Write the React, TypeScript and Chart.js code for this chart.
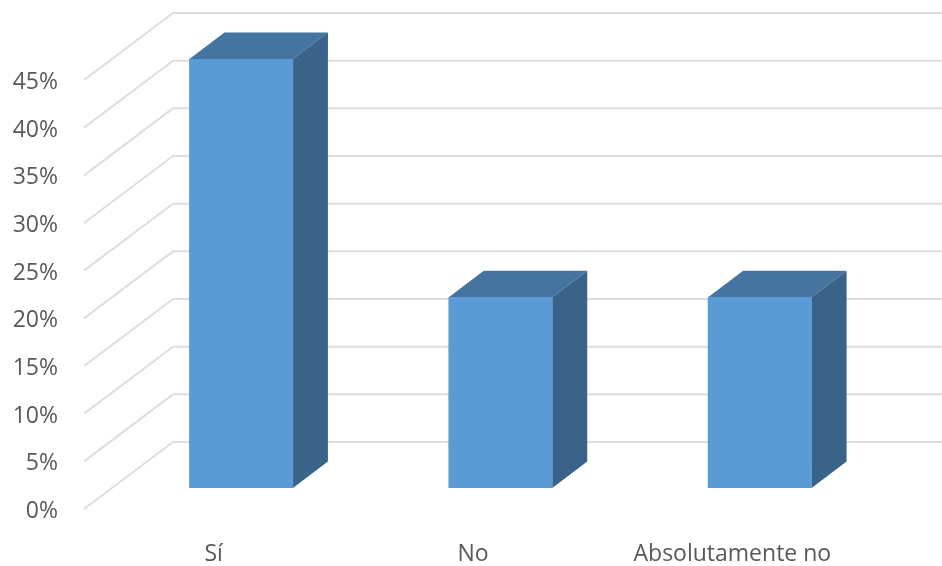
import React, { useEffect, useRef } from "react";
import { Chart, registerables } from "chart.js";

Chart.register(...registerables);

const categories = ["Sí", "No", "Absolutamente no"];
const shares = [45, 20, 20];
const tickStep = 5;
const tickMax = 45;

// Projection of the pseudo-3D box: wall depth, column depth, and where columns stand.
const WALL_DX = 89;
const WALL_DY = -67;
const BOX_DX = 35;
const BOX_DY = -26.5;
const COLUMN_SHIFT_X = 29.5;
const COLUMN_SHIFT_Y = -21;

const FRONT = "#5B9BD5";
const TOP = "#44749F";
const SIDE = "#3A638A";
const GRID = "#DEDEDE";
const TEXT = "#595959";

const wallPlugin = {
  id: "wall",
  beforeDatasetsDraw(chart: any) {
    const { ctx, scales, width } = chart;
    const left = scales.y.right + 2;
    ctx.save();
    ctx.strokeStyle = GRID;
    ctx.lineWidth = 2;
    for (let v = 0; v <= tickMax; v += tickStep) {
      const y = scales.y.getPixelForValue(v);
      ctx.beginPath();
      ctx.moveTo(left, y);
      ctx.lineTo(left + WALL_DX, y + WALL_DY);
      ctx.lineTo(width, y + WALL_DY);
      ctx.stroke();
    }
    ctx.restore();
  },
};

const columnPlugin = {
  id: "columnDepth",
  beforeDatasetDraw(chart: any) {
    const { ctx } = chart;
    const meta = chart.getDatasetMeta(0);
    ctx.save();
    ctx.translate(COLUMN_SHIFT_X, COLUMN_SHIFT_Y);
    meta.data.forEach((bar: any) => {
      const { x, y, base, width } = bar.getProps(["x", "y", "base", "width"], true);
      const l = x - width / 2;
      const r = x + width / 2;
      ctx.fillStyle = TOP;
      ctx.beginPath();
      ctx.moveTo(l, y);
      ctx.lineTo(l + BOX_DX, y + BOX_DY);
      ctx.lineTo(r + BOX_DX, y + BOX_DY);
      ctx.lineTo(r, y);
      ctx.closePath();
      ctx.fill();
      ctx.fillStyle = SIDE;
      ctx.beginPath();
      ctx.moveTo(r, y);
      ctx.lineTo(r + BOX_DX, y + BOX_DY);
      ctx.lineTo(r + BOX_DX, base + BOX_DY);
      ctx.lineTo(r, base);
      ctx.closePath();
      ctx.fill();
    });
  },
  afterDatasetDraw(chart: any) {
    chart.ctx.restore();
  },
};

export default function App() {
  const ref = useRef<HTMLCanvasElement>(null);

  useEffect(() => {
    document.body.style.margin = "0";
    const font = { family: "'Open Sans', sans-serif", size: 23 };
    const chart = new Chart(ref.current!, {
      type: "bar",
      data: {
        labels: categories,
        datasets: [
          {
            data: shares,
            backgroundColor: FRONT,
            borderWidth: 0,
            barThickness: 103.5,
          },
        ],
      },
      options: {
        animation: false,
        responsive: false,
        layout: { padding: { top: 80, right: 82, left: 0, bottom: 0 } },
        plugins: { legend: { display: false }, tooltip: { enabled: false } },
        scales: {
          x: {
            grid: { display: false },
            border: { display: false },
            ticks: { color: TEXT, font, padding: 24, maxRotation: 0, labelOffset: 2 },
            afterFit(scale: any) {
              scale.height = 57;
            },
          },
          y: {
            min: 0,
            max: tickMax,
            grid: { display: false },
            border: { display: false },
            ticks: {
              stepSize: tickStep,
              color: TEXT,
              font,
              padding: 16,
              labelOffset: 2.5,
              callback: (v: any) => `${v}%`,
            },
            afterFit(scale: any) {
              scale.width = 82;
            },
          },
        },
      },
      plugins: [wallPlugin, columnPlugin],
    });
    return () => chart.destroy();
  }, []);

  return <canvas ref={ref} width={942} height={566} style={{ display: "block" }} />;
}
